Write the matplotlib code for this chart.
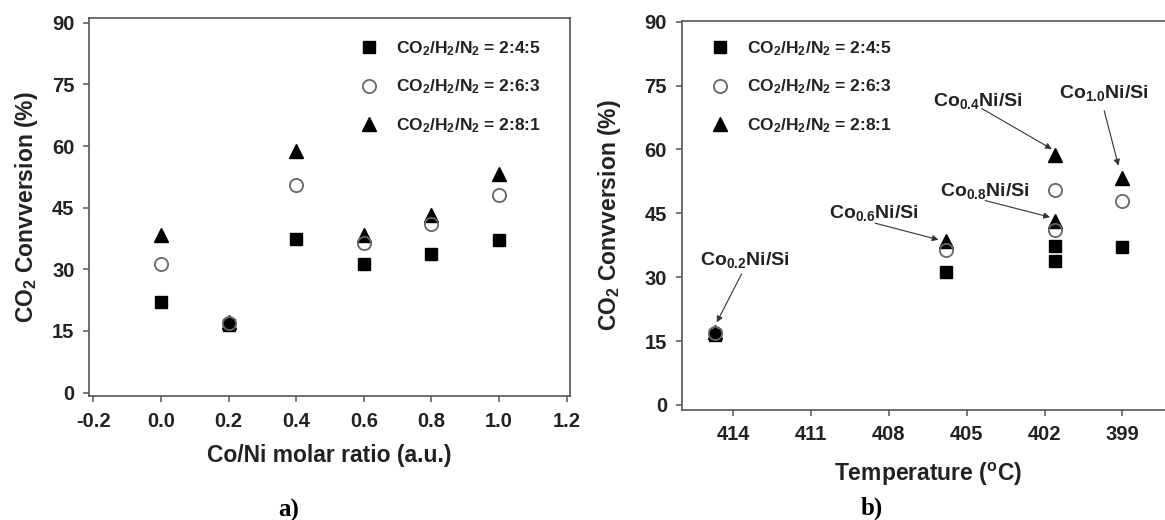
import matplotlib
matplotlib.use('Agg')
import matplotlib.pyplot as plt

plt.rcParams['font.family'] = ['Liberation Sans', 'DejaVu Sans']
plt.rcParams['font.weight'] = 'bold'
plt.rcParams['axes.labelweight'] = 'bold'
plt.rcParams['mathtext.fontset'] = 'custom'
plt.rcParams['mathtext.rm'] = 'Liberation Sans:bold'
plt.rcParams['mathtext.bf'] = 'Liberation Sans:bold'
plt.rcParams['mathtext.default'] = 'rm'

# data
ratio = [0.0, 0.2, 0.4, 0.6, 0.8, 1.0]
temp = [414.7, 414.7, 401.6, 405.8, 401.6, 399.0]   # temp for each ratio (0.0 not in panel b)
conv_245 = [22.0, 16.5, 37.4, 31.2, 33.8, 37.2]
conv_263 = [31.3, 16.8, 50.4, 36.4, 41.0, 48.0]
conv_281 = [38.3, 17.2, 58.8, 38.4, 43.1, 53.2]
series_labels = ['CO$_2$/H$_2$/N$_2$ = 2:4:5', 'CO$_2$/H$_2$/N$_2$ = 2:6:3', 'CO$_2$/H$_2$/N$_2$ = 2:8:1']
yticks = [0, 15, 30, 45, 60, 75, 90]
ratio_ticks = [-0.2, 0.0, 0.2, 0.4, 0.6, 0.8, 1.0, 1.2]
temp_ticks = [414, 411, 408, 405, 402, 399]

# panel b annotations: label, arrow tip (temp, conv), arrow start, text pos
ann_labels = ['Co$_{0.2}$Ni/Si', 'Co$_{0.6}$Ni/Si', 'Co$_{0.8}$Ni/Si', 'Co$_{0.4}$Ni/Si', 'Co$_{1.0}$Ni/Si']
ann_tip = [(414.64, 19.4), (406.09, 38.8), (401.79, 44.1), (401.72, 60.1), (399.15, 56.2)]
ann_start = [(413.68, 30.8), (408.54, 42.7), (404.29, 48.0), (404.42, 69.6), (399.70, 69.1)]
ann_text = [(413.56, 32.9), (408.58, 43.9), (404.32, 49.1), (404.56, 70.1), (399.71, 72.0)]

spine_c = '#555555'
txt_c = '#222222'
W, H = 1165, 520
fig = plt.figure(figsize=(W / 100, H / 100), dpi=100)
ax1 = fig.add_axes([89 / W, 1 - 396 / H, (570 - 89) / W, (396 - 18.3) / H])
ax2 = fig.add_axes([681.5 / W, 1 - 409.5 / H, (1174.2 - 681.5) / W, (409.5 - 20.7) / H])


def points(ax, xs, a, b, c):
    ax.plot(xs, a, 's', color='black', ms=9.2, zorder=3)
    ax.plot(xs, c, '^', color='black', ms=10, zorder=4)
    ax.plot(xs, b, 'o', mfc='none', mec='#666666', mew=1.3, ms=9.5, zorder=5)


def style(ax):
    for s in ax.spines.values():
        s.set_color(spine_c)
        s.set_linewidth(1.2)
    ax.tick_params(direction='out', length=4.5, width=1.1, color=spine_c,
                   labelsize=14.5, labelcolor=txt_c)
    ax.tick_params(axis='x', pad=7)
    ax.tick_params(axis='y', pad=6)
    ax.set_yticks(yticks)
    ax.set_yticklabels([str(v) for v in yticks], fontweight='bold')
    ax.set_ylabel('CO$_2$ Convversion (%)', fontsize=16.5, color=txt_c)
    hs = [plt.Line2D([], [], ls='none', marker='s', color='black', ms=9.2),
          plt.Line2D([], [], ls='none', marker='o', mfc='none', mec='#666666', mew=1.3, ms=9.5),
          plt.Line2D([], [], ls='none', marker='^', color='black', ms=10)]
    return hs


points(ax1, ratio, conv_245, conv_263, conv_281)
hs = style(ax1)
ax1.set_xlim(-0.213, 1.21)
ax1.set_ylim(-0.85, 91.1)
ax1.set_xticks(ratio_ticks)
ax1.set_xticklabels(['%.1f' % v for v in ratio_ticks], fontweight='bold')
ax1.set_xlabel('Co/Ni molar ratio (a.u.)', fontsize=16.5, color=txt_c)
ax1.xaxis.set_label_coords(0.5, -0.127)
ax1.yaxis.set_label_coords(-0.102, 0.5)
ax1.legend(hs, series_labels, loc='upper left', bbox_to_anchor=(0.564, 0.945), frameon=False,
           fontsize=12.5, handlelength=1, handletextpad=1.05, labelspacing=1.15,
           borderpad=0, borderaxespad=0, labelcolor=txt_c)

# panel b: no Co0.0 sample
points(ax2, temp[1:], conv_245[1:], conv_263[1:], conv_281[1:])
hs = style(ax2)
ax2.spines['right'].set_visible(False)
ax2.set_xlim(416, 397)
ax2.set_ylim(-1.06, 90.23)
ax2.set_xticks(temp_ticks)
ax2.set_xticklabels([str(v) for v in temp_ticks], fontweight='bold')
ax2.yaxis.set_label_coords(-0.119, 0.5)
ax2.set_xlabel('Temperature ($^\\mathrm{o}$C)', fontsize=16.5, color=txt_c)
ax2.xaxis.set_label_coords(0.5, -0.133)
ax2.legend(hs, series_labels, loc='upper left', bbox_to_anchor=(0.061, 0.953), frameon=False,
           fontsize=12.5, handlelength=1, handletextpad=1.05, labelspacing=1.15,
           borderpad=0, borderaxespad=0, labelcolor=txt_c)

for lab, tip, st, tx in zip(ann_labels, ann_tip, ann_start, ann_text):
    ax2.annotate('', xy=tip, xytext=st,
                 arrowprops=dict(arrowstyle='-|>', color='#333333', lw=0.8,
                                 mutation_scale=9, shrinkA=0, shrinkB=0))
    ax2.text(tx[0], tx[1], lab, ha='center', va='baseline', fontsize=14,
             color=txt_c, fontweight='bold')

fig.text(289 / W, 1 - 510 / H, 'a)', ha='center', va='center', fontsize=18,
         family='Liberation Serif', fontweight='bold')
fig.text(872 / W, 1 - 508 / H, 'b)', ha='center', va='center', fontsize=18,
         family='Liberation Serif', fontweight='bold')

fig.savefig('out.png', dpi=100)
